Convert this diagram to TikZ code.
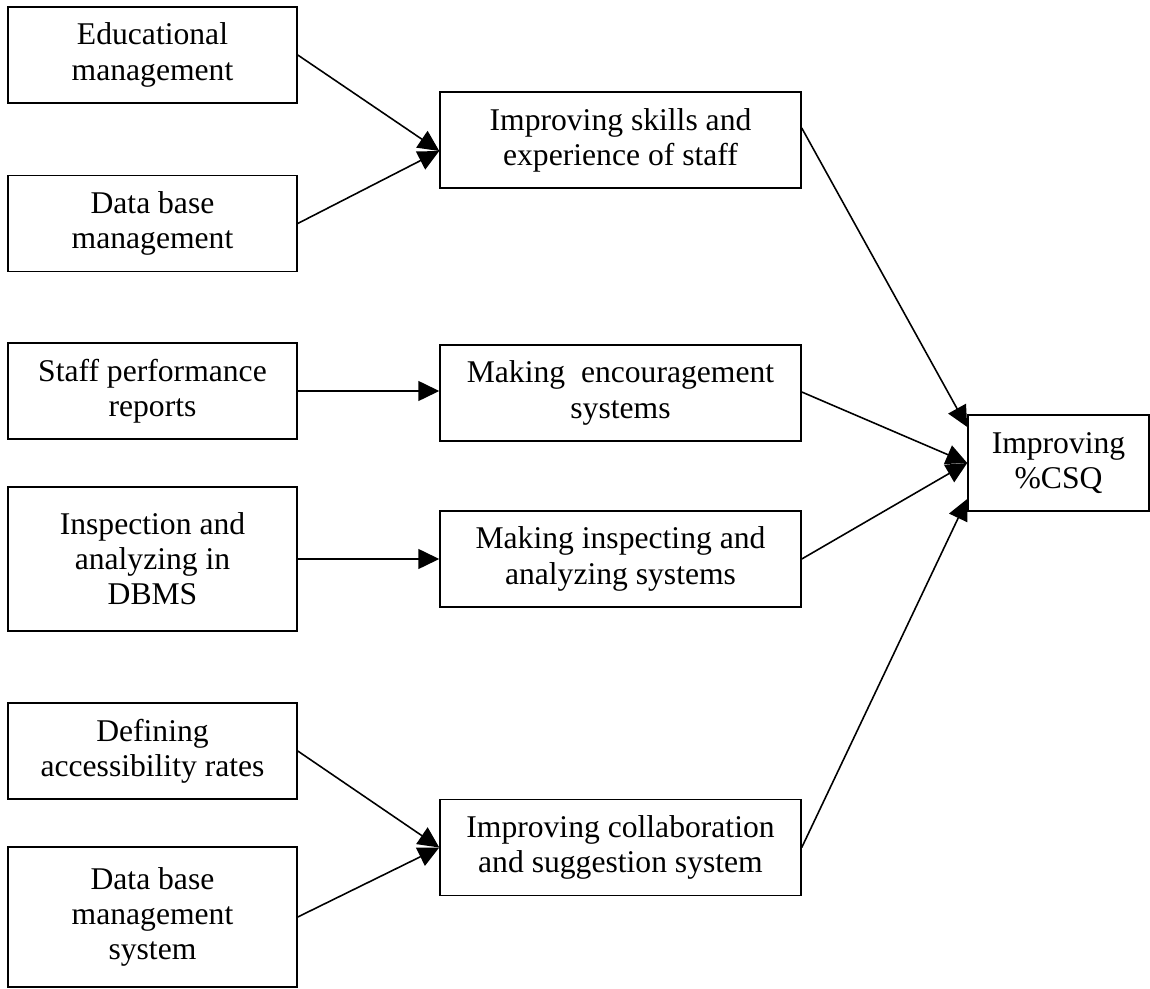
\documentclass[tikz,border=0pt]{standalone}
\usepackage{fontspec}
\setmainfont{Liberation Serif}
\usetikzlibrary{arrows.meta}

\begin{document}
\begin{tikzpicture}[x=0.02cm, y=-0.02cm,
    box/.style={draw, line width=0.9pt, align=center, inner sep=2pt,
      font=\fontsize{18}{20}\selectfont},
    srcbox/.style={box, minimum width=5.78cm, minimum height=1.92cm},
    midbox/.style={box, minimum width=7.22cm, minimum height=1.92cm},
    link/.style={line width=0.9pt, -{Triangle[length=0.42cm,width=0.4cm]}}]
    \useasboundingbox (0,0) rectangle (1150,989);

    % Left column (sources)
    \node[srcbox] (edu) at (152.5,55) {Educational\\management};
    \node[srcbox] (dbm) at (152.5,223.5) {Data base\\management};
    \node[srcbox] (staff) at (152.5,391) {Staff performance\\reports};
    \node[srcbox, minimum height=2.88cm] (insp) at (152.5,559) {Inspection and\\analyzing in\\DBMS};
    \node[srcbox] (defin) at (152.5,751) {Defining\\accessibility rates};
    \node[srcbox, minimum height=2.8cm] (dbms) at (152.5,917) {Data base\\management\\system};

    % Middle column (systems)
    \node[midbox] (skills) at (620.5,140) {Improving skills and\\experience of staff};
    \node[midbox] (encour) at (620.5,393) {Making~ encouragement\\systems};
    \node[midbox] (inspsys) at (620.5,559) {Making inspecting and\\analyzing systems};
    \node[midbox] (collab) at (620.5,847.5) {Improving collaboration\\and suggestion system};

    % Goal
    \node[box, minimum width=3.62cm, minimum height=1.92cm] (csq) at (1058.5,463) {Improving\\\%CSQ};

    % Connectors
    \coordinate (skillsin) at ([yshift=-0.22cm]skills.west);
    \draw[link] (edu.east) -- (skillsin);
    \draw[link] (dbm.east) -- (skillsin);
    \draw[link] (staff.east) -- (staff.east -| encour.west);
    \draw[link] (insp.east) -- (insp.east -| inspsys.west);
    \draw[link] (defin.east) -- (collab.west);
    \draw[link] (dbms.east) -- (collab.west);
    \draw[link] ([yshift=0.24cm]skills.east) -- ([yshift=0.72cm]csq.west);
    \draw[link] ([yshift=0.02cm]encour.east) -- (csq.west);
    \draw[link] (inspsys.east) -- (csq.west);
    \draw[link] (collab.east) -- ([yshift=-0.72cm]csq.west);
\end{tikzpicture}
\end{document}
